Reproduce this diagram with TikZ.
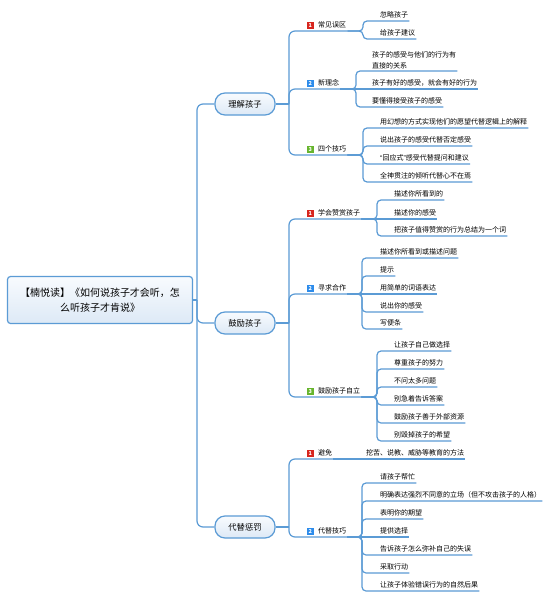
\documentclass[tikz,border=0pt]{standalone}
\usepackage{fontspec}
\setmainfont{Noto Sans CJK SC}
\newfontfamily\latinq{Liberation Sans}
\usepackage{tikz}
\definecolor{linkc}{HTML}{5B9BD5}
\definecolor{boxtop}{HTML}{F8FBFE}
\definecolor{boxbot}{HTML}{DDE9F6}
\definecolor{icred}{HTML}{D7261E}
\definecolor{icblue}{HTML}{2D8CEB}
\definecolor{icgreen}{HTML}{67B52E}

\begin{document}
\begin{tikzpicture}[
  x=1pt, y=-1pt,
  link/.style={draw=linkc, line width=1.2pt, rounded corners=4pt},
  trunk/.style={link, rounded corners=6pt},
  rootbox/.style={draw=linkc, line width=1.2pt, rounded corners=3pt, top color=boxtop, bottom color=boxbot,
    minimum width=185pt, minimum height=47pt, align=center, font=\fontsize{10}{15}\selectfont},
  main/.style={draw=linkc, line width=1.2pt, rounded corners=10pt, top color=boxtop, bottom color=boxbot,
    minimum width=60pt, minimum height=22pt, inner sep=2pt, font=\fontsize{8.3}{10}\selectfont},
  leaf/.style={anchor=south west, inner xsep=1pt, inner ysep=2pt, text depth=1pt,
    font=\fontsize{7}{9}\selectfont, text=black},
  prio/.style={fill=#1, text=white, minimum size=7pt, inner sep=0pt, text height=4pt, text depth=0pt,
    font=\fontsize{5.5}{6}\selectfont\bfseries},
  topic/.style 2 args={leaf, label={[prio=#1, label distance=3pt]left:#2}}
]
  \fill[white] (0,0) rectangle (554,600);

  \node[rootbox] (root) at (100,300) {【楠悦读】《如何说孩子才会听，怎\\么听孩子才肯说》};
  \node[main] (u) at (245,104) {理解孩子};
  \node[main] (e) at (245,323) {鼓励孩子};
  \node[main] (p) at (245,527) {代替惩罚};
  \coordinate (root-j) at (197,300);
  \coordinate (u-j) at (289,104);
  \coordinate (e-j) at (289,323);
  \coordinate (p-j) at (289,527);

  \node[topic={icred}{1}] (u1) at (317,31) {常见误区};
  \node[topic={icblue}{2}] (u2) at (317,89) {新理念};
  \node[topic={icgreen}{3}] (u3) at (317,155) {四个技巧};
  \node[topic={icred}{1}] (e1) at (317,219) {学会赞赏孩子};
  \node[topic={icblue}{2}] (e2) at (317,294) {寻求合作};
  \node[topic={icgreen}{3}] (e3) at (317,397) {鼓励孩子自立};
  \node[topic={icred}{1}] (p1) at (317,459) {避免};
  \node[topic={icblue}{2}] (p2) at (317,537) {代替技巧};
  \coordinate (u1-b) at (363,31);
  \coordinate (u2-b) at (356,89);
  \coordinate (u3-b) at (363,155);
  \coordinate (e1-b) at (377,219);
  \coordinate (e2-b) at (362,294);
  \coordinate (e3-b) at (377,397);
  \coordinate (p2-b) at (362,537);

  \node[leaf] (u11) at (379,21) {忽略孩子};
  \node[leaf] (u12) at (379,39) {给孩子建议};
  \node[leaf, align=left, text depth=, font=\fontsize{7}{11}\selectfont] (u21) at (371,71) {孩子的感受与他们的行为有\\直接的关系};
  \node[leaf] (u22) at (371,89) {孩子有好的感受，就会有好的行为};
  \node[leaf] (u23) at (371,107) {要懂得接受孩子的感受};
  \node[leaf] (u31) at (379,128) {用幻想的方式实现他们的愿望代替逻辑上的解释};
  \node[leaf] (u32) at (379,146) {说出孩子的感受代替否定感受};
  \node[leaf] (u33) at (379,164) {{\latinq “}回应式{\latinq ”}感受代替提问和建议};
  \node[leaf] (u34) at (379,182) {全神贯注的倾听代替心不在焉};

  \node[leaf] (e11) at (393,200) {描述你所看到的};
  \node[leaf] (e12) at (393,219) {描述你的感受};
  \node[leaf] (e13) at (393,236) {把孩子值得赞赏的行为总结为一个词};
  \node[leaf] (e21) at (379,258) {描述你所看到或描述问题};
  \node[leaf] (e22) at (379,276) {提示};
  \node[leaf] (e23) at (379,294) {用简单的词语表达};
  \node[leaf] (e24) at (379,312) {说出你的感受};
  \node[leaf] (e25) at (379,329) {写便条};
  \node[leaf] (e31) at (393,351) {让孩子自己做选择};
  \node[leaf] (e32) at (393,369) {尊重孩子的努力};
  \node[leaf] (e33) at (393,387) {不问太多问题};
  \node[leaf] (e34) at (393,405) {别急着告诉答案};
  \node[leaf] (e35) at (393,423) {鼓励孩子善于外部资源};
  \node[leaf] (e36) at (393,441) {别毁掉孩子的希望};

  \node[leaf] (p11) at (365,459) {挖苦、说教、威胁等教育的方法};
  \node[leaf] (p21) at (379,483) {请孩子帮忙};
  \node[leaf] (p22) at (379,501) {明确表达强烈不同意的立场（但不攻击孩子的人格）};
  \node[leaf] (p23) at (379,519) {表明你的期望};
  \node[leaf] (p24) at (379,537) {提供选择};
  \node[leaf] (p25) at (379,555) {告诉孩子怎么弥补自己的失误};
  \node[leaf] (p26) at (379,573) {采取行动};
  \node[leaf] (p27) at (379,591) {让孩子体验错误行为的自然后果};

  \draw[link] (root.east) -- (root-j);
  \draw[trunk] (root-j) |- (u.west);
  \draw[trunk] (root-j) |- (e.west);
  \draw[trunk] (root-j) |- (p.west);

  \draw[link] (u.east) -- (u-j);
  \draw[link] (e.east) -- (e-j);
  \draw[link] (p.east) -- (p-j);
  \draw[trunk] (u-j) |- (u1.south east);
  \draw[trunk] (u-j) |- (u2.south east);
  \draw[trunk] (u-j) |- (u3.south east);
  \draw[trunk] (e-j) |- (e1.south east);
  \draw[trunk] (e-j) |- (e2.south east);
  \draw[trunk] (e-j) |- (e3.south east);
  \draw[trunk] (p-j) |- (p1.south east);
  \draw[trunk] (p-j) |- (p2.south east);

  \draw[link] (u1.south east) -| (u1-b |- u11.south) -- (u11.south east);
  \draw[link] (u1.south east) -| (u1-b |- u12.south) -- (u12.south east);
  \draw[link] (u2.south east) -| (u2-b |- u21.south) -- (u21.south east);
  \draw[link] (u2.south east) -- (u22.south east);
  \draw[link] (u2.south east) -| (u2-b |- u23.south) -- (u23.south east);
  \draw[link] (u3.south east) -| (u3-b |- u31.south) -- (u31.south east);
  \draw[link] (u3.south east) -| (u3-b |- u32.south) -- (u32.south east);
  \draw[link] (u3.south east) -| (u3-b |- u33.south) -- (u33.south east);
  \draw[link] (u3.south east) -| (u3-b |- u34.south) -- (u34.south east);

  \draw[link] (e1.south east) -| (e1-b |- e11.south) -- (e11.south east);
  \draw[link] (e1.south east) -- (e12.south east);
  \draw[link] (e1.south east) -| (e1-b |- e13.south) -- (e13.south east);
  \draw[link] (e2.south east) -| (e2-b |- e21.south) -- (e21.south east);
  \draw[link] (e2.south east) -| (e2-b |- e22.south) -- (e22.south east);
  \draw[link] (e2.south east) -- (e23.south east);
  \draw[link] (e2.south east) -| (e2-b |- e24.south) -- (e24.south east);
  \draw[link] (e2.south east) -| (e2-b |- e25.south) -- (e25.south east);
  \draw[link] (e3.south east) -| (e3-b |- e31.south) -- (e31.south east);
  \draw[link] (e3.south east) -| (e3-b |- e32.south) -- (e32.south east);
  \draw[link] (e3.south east) -| (e3-b |- e33.south) -- (e33.south east);
  \draw[link] (e3.south east) -| (e3-b |- e34.south) -- (e34.south east);
  \draw[link] (e3.south east) -| (e3-b |- e35.south) -- (e35.south east);
  \draw[link] (e3.south east) -| (e3-b |- e36.south) -- (e36.south east);

  \draw[link] (p1.south east) -- (p11.south east);
  \draw[link] (p2.south east) -| (p2-b |- p21.south) -- (p21.south east);
  \draw[link] (p2.south east) -| (p2-b |- p22.south) -- (p22.south east);
  \draw[link] (p2.south east) -| (p2-b |- p23.south) -- (p23.south east);
  \draw[link] (p2.south east) -- (p24.south east);
  \draw[link] (p2.south east) -| (p2-b |- p25.south) -- (p25.south east);
  \draw[link] (p2.south east) -| (p2-b |- p26.south) -- (p26.south east);
  \draw[link] (p2.south east) -| (p2-b |- p27.south) -- (p27.south east);
\end{tikzpicture}
\end{document}
